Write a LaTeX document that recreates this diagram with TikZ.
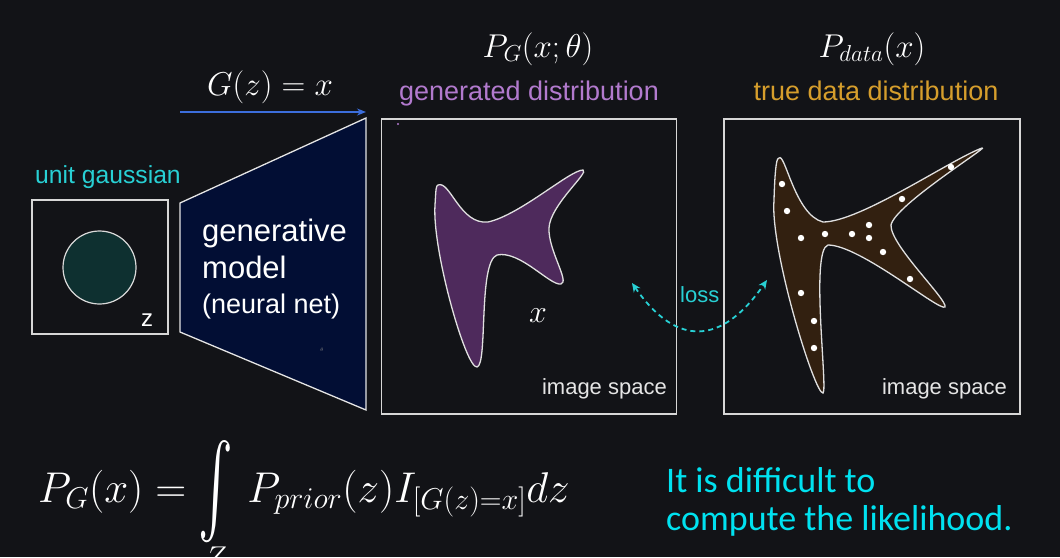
\RequirePackage{fix-cm}
\documentclass[tikz,border=0pt]{standalone}
\usepackage{exscale}
\usepackage[no-math]{fontspec}
\setmainfont{Liberation Sans}
\newfontfamily\notefont{Carlito}
\usetikzlibrary{arrows.meta}
\definecolor{bgcol}{RGB}{18,19,23}
\definecolor{framecol}{RGB}{215,215,215}
\definecolor{gausscol}{RGB}{14,48,48}
\definecolor{netcol}{RGB}{2,14,52}
\definecolor{gencol}{RGB}{78,42,92}
\definecolor{datacol}{RGB}{50,32,16}
\definecolor{cyanlbl}{RGB}{40,208,212}
\definecolor{cyannote}{RGB}{0,226,240}
\definecolor{purplelbl}{RGB}{178,122,206}
\definecolor{orangelbl}{RGB}{214,158,44}
\definecolor{arrowblue}{RGB}{60,110,220}
\newcommand{\fsz}[1]{\fontsize{#1}{#1}\selectfont}
\newcommand{\bigint}{\mathop{\vcenter{\hbox{\scalebox{2.1}[3.7]{$\int$}}}}}
\tikzset{
  spacebox/.style={draw=framecol, line width=1.4pt, inner sep=0pt},
  blob/.style={draw=white!88!black, line width=1.3pt},
  lbl/.style={text=white, inner sep=0pt},
}
\begin{document}
\begin{tikzpicture}[x=1pt, y=-1pt]
	\fill[bgcol] (0,0) rectangle (1060,557);
	\useasboundingbox (0,0) rectangle (1060,557);

	\node[spacebox, minimum width=136pt, minimum height=134pt] (zbox) at (100,267) {};
	\node[circle, fill=gausscol, draw=white!85!black, line width=1.2pt, minimum size=73pt] (gauss) at (99.5,267.5) {};
	\node[lbl, anchor=base] (zlbl) at (147,326) {\fsz{24}z};
	\node[lbl, text=cyanlbl, anchor=base] (unitlbl) at (108,183) {\fsz{24.7}unit gaussian};

	\draw[fill=netcol, draw=white!90!black, line width=1.3pt] (180,203) -- (366,118) -- (366,410) -- (180,332) -- cycle;
	\node[lbl, anchor=base west] (gen1) at (202,241) {\fsz{31}generative};
	\node[lbl, anchor=base west] (gen2) at (202,278) {\fsz{31}model};
	\node[lbl, anchor=base west] (gen3) at (202,313) {\fsz{27}(neural net)};
	\node[lbl, text=gray] (theta) at (322,350) {\fsz{5}$\theta$};

	\coordinate (gs) at (180,112);
	\coordinate (ge) at (366,112);
	\draw[arrowblue, line width=1.4pt, -{Stealth[length=9pt, width=7pt]}] (gs) -- (ge);
	\node[lbl, anchor=base] (gmap) at (270,95) {\fsz{33}$G(z) = x$};

	\node[spacebox, minimum width=295pt, minimum height=295pt] (genbox) at (529,266.5) {};
	\node[spacebox, minimum width=296pt, minimum height=295pt] (databox) at (872,266.5) {};

	\node[lbl, anchor=base] (pg) at (538,57) {\fsz{33}$P_G(x;\theta)$};
	\node[lbl, text=purplelbl, anchor=base] (genlbl) at (529,100) {\fsz{27}generated distribution};
	\node[lbl, anchor=base] (pdata) at (872,57) {\fsz{33}$P_{data}(x)$};
	\node[lbl, text=orangelbl, anchor=base] (datalbl) at (876,100) {\fsz{27}true data distribution};

	\fill[purplelbl] (398,124) circle (1.2);
	\draw[blob, fill=gencol] (438,185) .. controls (450,180) and (460,225) .. (488,222)
		.. controls (520,215) and (570,170) .. (583,170)
		.. controls (590,172) and (550,205) .. (549,228)
		.. controls (548,250) and (570,282) .. (561,284)
		.. controls (550,286) and (520,250) .. (497,255)
		.. controls (478,262) and (488,365) .. (477,367)
		.. controls (466,369) and (432,250) .. (435,205)
		.. controls (436,188) and (436,186) .. (438,185) -- cycle;
	\node[lbl, anchor=base] (xlbl) at (538,322) {\fsz{32}$x$};
	\node[lbl, anchor=base east, text=white!90!black] (img1) at (667,394) {\fsz{22}image space};

	\draw[blob, fill=datacol] (779,158) .. controls (785,152) and (795,215) .. (823,222)
		.. controls (860,222) and (950,160) .. (982,148)
		.. controls (990,146) and (895,205) .. (891,225)
		.. controls (890,245) and (948,300) .. (945,307)
		.. controls (940,312) and (860,245) .. (828,245)
		.. controls (810,250) and (828,390) .. (823,393)
		.. controls (815,395) and (770,250) .. (774,200)
		.. controls (775,165) and (777,157) .. (779,158) -- cycle;
	\foreach \px/\py in {782/184, 787/211, 801/238, 825/234, 852/234, 869/225, 869/238,
		883/252, 910/279, 902/199, 951/167, 801/293, 814/321, 814/348}
		\fill[white] (\px,\py) circle (3.2);
	\node[lbl, anchor=base east, text=white!90!black] (img2) at (1007,394) {\fsz{22}image space};

	\coordinate (lossa) at (632,283);
	\coordinate (lossb) at (767,280);
	\draw[cyanlbl, line width=1.8pt, dash pattern=on 5pt off 4pt, {Stealth[length=9pt, width=8pt]}-{Stealth[length=9pt, width=8pt]}]
		(lossa) .. controls (677,348) and (722,345) .. (lossb);
	\node[lbl, text=cyanlbl, anchor=base west] (losslbl) at (680,302) {\fsz{22}loss};

	\node[lbl, anchor=base west] (formula) at (38,502) {\fsz{43}$P_G(x) = \bigint\limits_{\raisebox{0pt}[0pt][0pt]{$\scriptstyle Z$}}\, P_{prior}(z)I_{[G(z)=x]}dz$};
	\node[lbl, text=cyannote, anchor=base west] (note1) at (666,492) {\notefont\fsz{36}It is difficult to};
	\node[lbl, text=cyannote, anchor=base west] (note2) at (666,530) {\notefont\fsz{36}compute the likelihood.};
\end{tikzpicture}
\end{document}
